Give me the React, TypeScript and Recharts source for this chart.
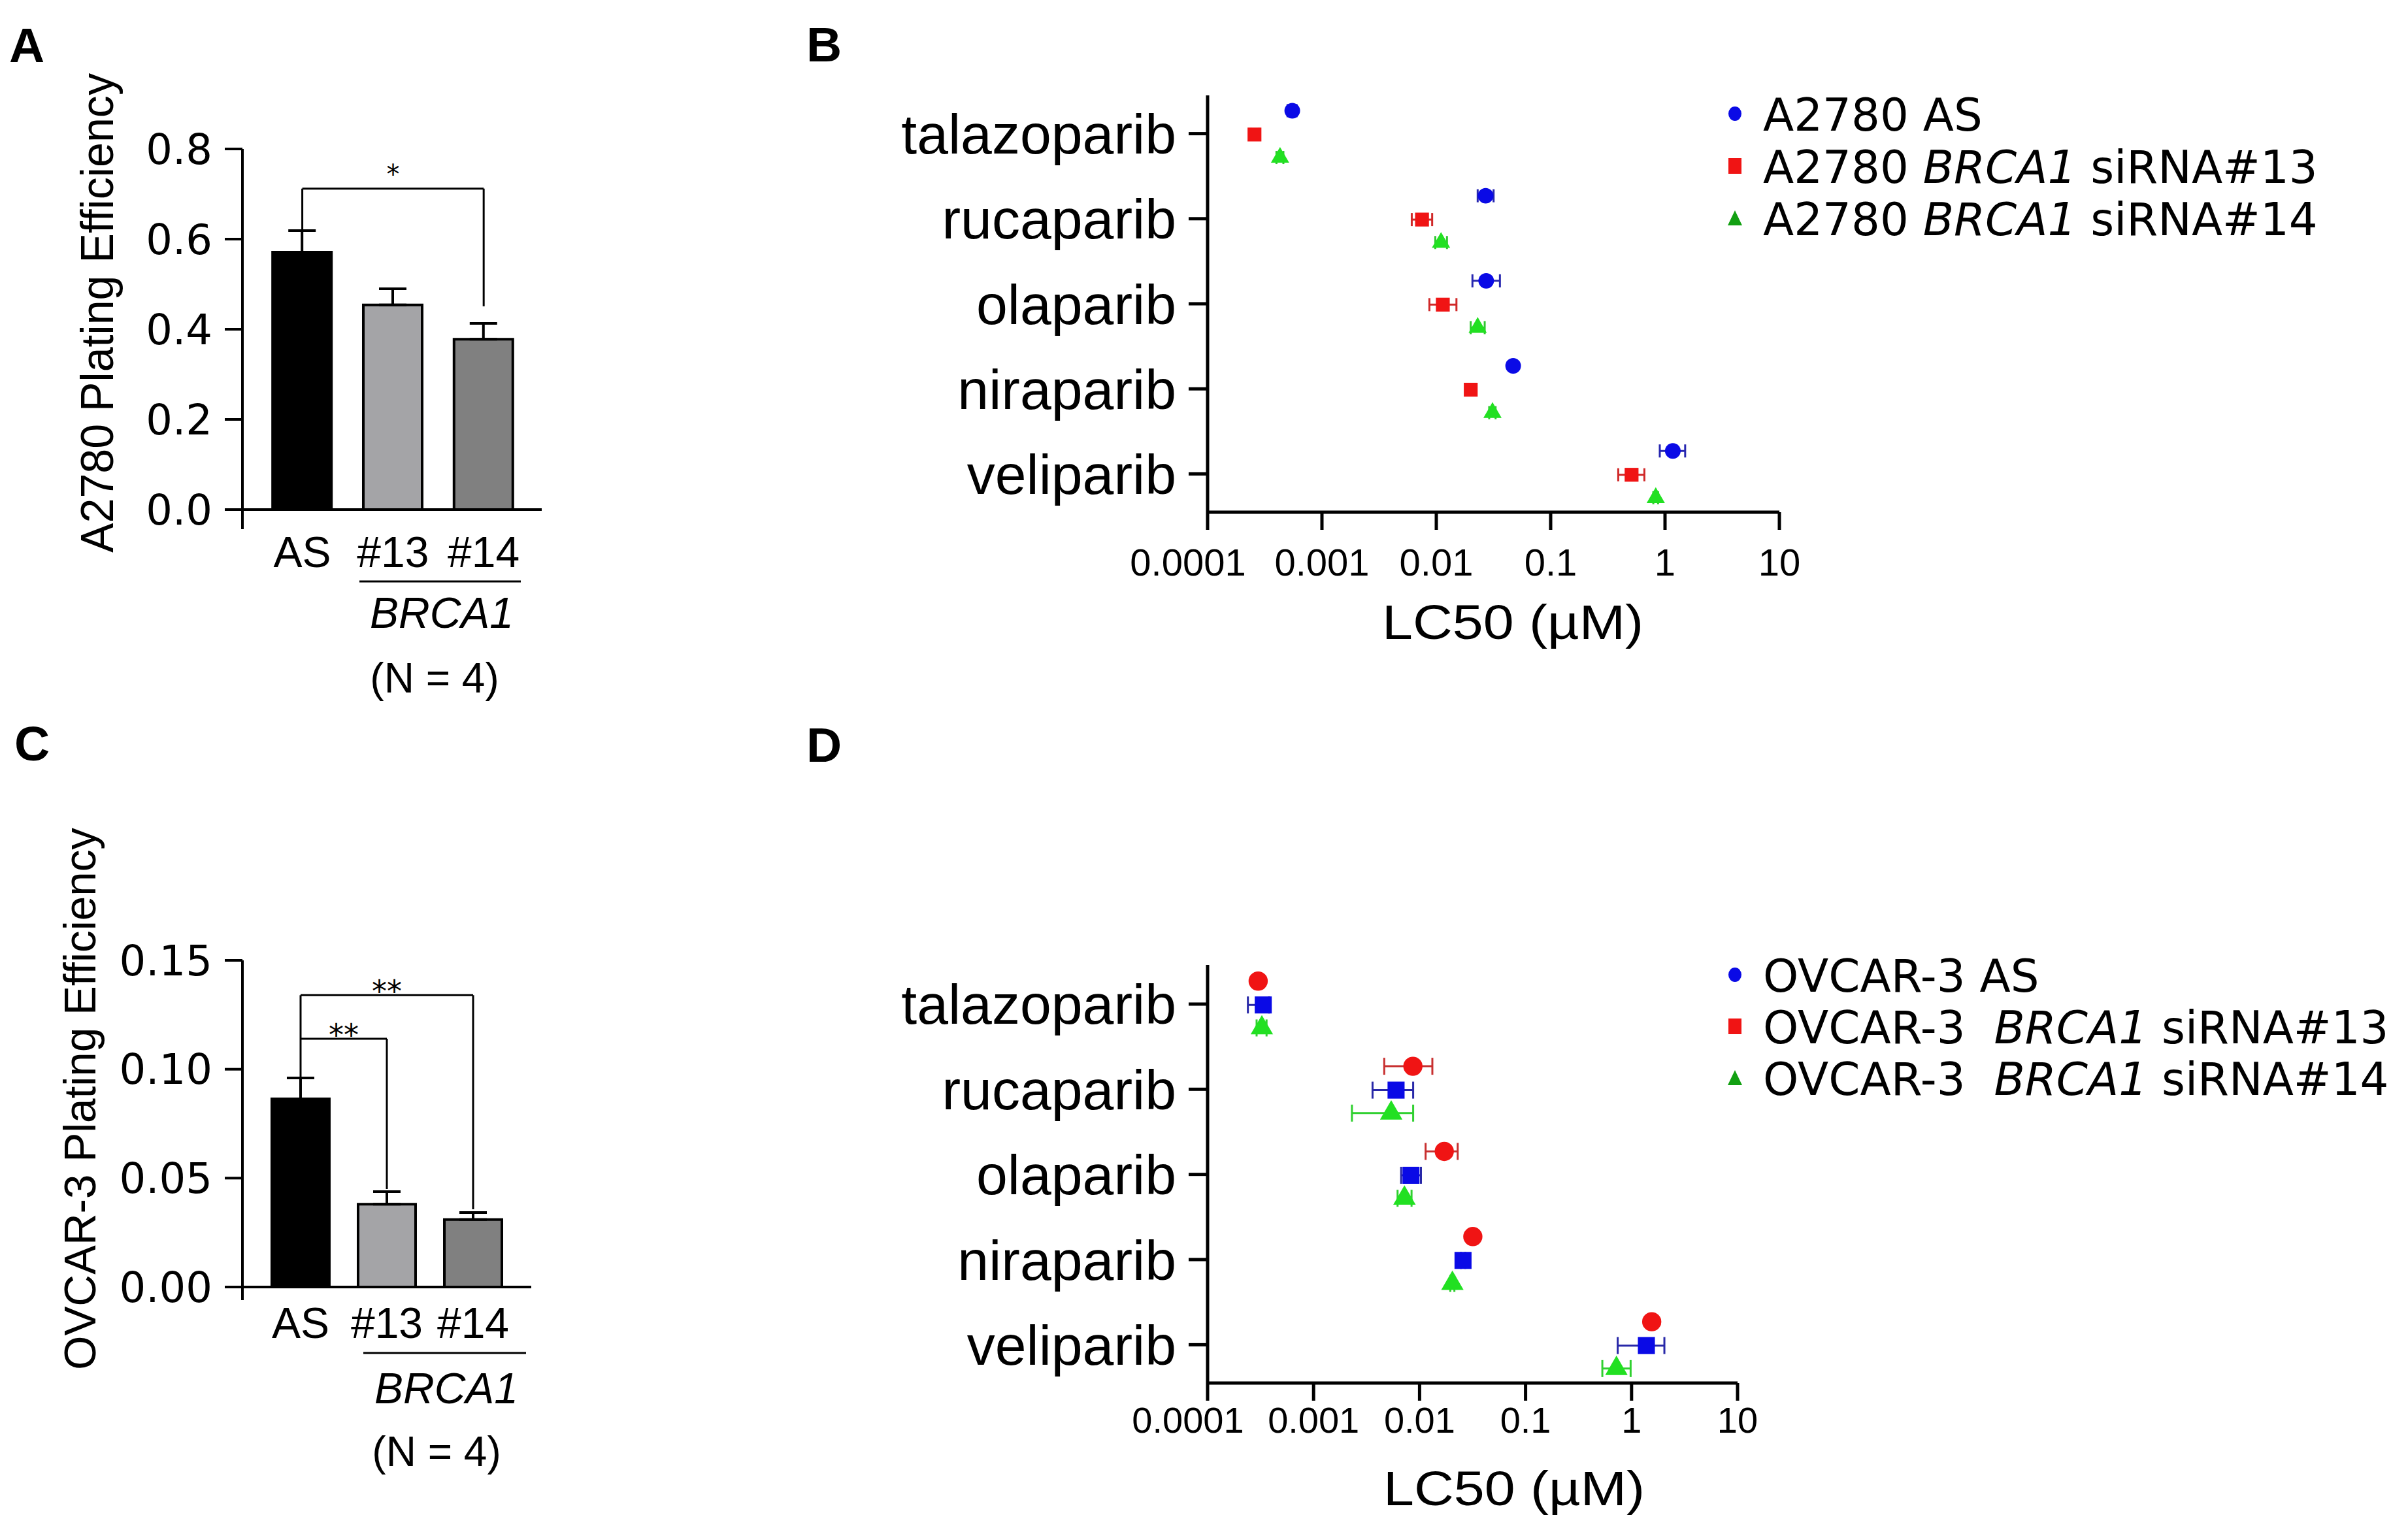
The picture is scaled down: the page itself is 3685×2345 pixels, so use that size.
import React from "react";
import {
  BarChart,
  Bar,
  Cell,
  ErrorBar,
  XAxis,
  YAxis,
  ReferenceLine,
  ReferenceDot,
  ScatterChart,
  Scatter,
  Symbols,
} from "recharts";

const W = 3685;
const H = 2345;
const SANS = "'DejaVu Sans', sans-serif";
const ARIAL = "'Liberation Sans', Arial, sans-serif";

// ---- A / C: plating efficiency ----
const groups = ["AS", "#13", "#14"];
const barColors = ["#000000", "#a4a4a7", "#808080"];

const a2780Mean = [0.571, 0.454, 0.378];
const a2780Sem = [0.048, 0.036, 0.035];
const a2780Ticks = [0, 0.2, 0.4, 0.6, 0.8];

const ovcarMean = [0.0864, 0.038, 0.031];
const ovcarSem = [0.0096, 0.0058, 0.0032];
const ovcarTicks = [0, 0.05, 0.1, 0.15];

// significance brackets (group positions 1..3, y in data units)
const a2780Sig = [{ from: 1, to: 3, y: 0.712, left: 0.619, right: 0.451, stars: "*" }];
const ovcarSig = [
  { from: 1, to: 2, y: 0.114, left: 0.096, right: 0.045, stars: "**" },
  { from: 1, to: 3, y: 0.134, left: 0.114, right: 0.0357, stars: "**" },
];

// ---- B / D: LC50 (µM) ----
const drugs = ["talazoparib", "rucaparib", "olaparib", "niraparib", "veliparib"];
const lcTicks = [0.0001, 0.001, 0.01, 0.1, 1, 10];

const a2780As = [0.00055, 0.027, 0.0273, 0.047, 1.17];
const a2780AsLow = [0.0005, 0.023, 0.0207, 0.045, 0.9];
const a2780AsHigh = [0.0006, 0.0317, 0.036, 0.049, 1.5];
const a2780Si13 = [0.000257, 0.0075, 0.0114, 0.02, 0.51];
const a2780Si13Low = [0.00024, 0.0061, 0.0087, 0.019, 0.39];
const a2780Si13High = [0.00028, 0.0092, 0.015, 0.021, 0.66];
const a2780Si14 = [0.00043, 0.011, 0.023, 0.031, 0.83];
const a2780Si14Low = [0.0004, 0.0098, 0.02, 0.029, 0.79];
const a2780Si14High = [0.00046, 0.0124, 0.0265, 0.033, 0.87];

// OVCAR-3 rows as plotted (top red circles, middle blue squares, bottom green triangles)
const ovcarTop = [0.0003, 0.00865, 0.0171, 0.0318, 1.55];
const ovcarTopLow = [0.00028, 0.00464, 0.0114, 0.031, 1.5];
const ovcarTopHigh = [0.00032, 0.0132, 0.0229, 0.033, 1.6];
const ovcarMid = [0.000335, 0.006, 0.0083, 0.0257, 1.38];
const ovcarMidLow = [0.00024, 0.0036, 0.0067, 0.0245, 0.74];
const ovcarMidHigh = [0.00038, 0.0087, 0.0103, 0.027, 2.04];
const ovcarBot = [0.000325, 0.0054, 0.0072, 0.0204, 0.72];
const ovcarBotLow = [0.00029, 0.0023, 0.0062, 0.0195, 0.53];
const ovcarBotHigh = [0.00036, 0.0087, 0.0084, 0.0213, 0.98];

const BLUE = "#0a0ae6";
const RED = "#f01414";
const GREEN = "#22e022";

const a2780Series = [
  { name: "A2780 AS", v: a2780As, lo: a2780AsLow, hi: a2780AsHigh, color: BLUE, err: "#2828b0", shape: "circle", off: -0.27, k: 1 },
  { name: "A2780 BRCA1 siRNA#13", v: a2780Si13, lo: a2780Si13Low, hi: a2780Si13High, color: RED, err: "#d02828", shape: "square", off: 0.01, k: 1 },
  { name: "A2780 BRCA1 siRNA#14", v: a2780Si14, lo: a2780Si14Low, hi: a2780Si14High, color: GREEN, err: "#30c830", shape: "triangle", off: 0.28, k: 0.75 },
];
const ovcarSeries = [
  { name: "top", v: ovcarTop, lo: ovcarTopLow, hi: ovcarTopHigh, color: RED, err: "#c83030", shape: "circle", off: -0.27, k: 1 },
  { name: "mid", v: ovcarMid, lo: ovcarMidLow, hi: ovcarMidHigh, color: BLUE, err: "#2828a8", shape: "square", off: 0.01, k: 1 },
  { name: "bot", v: ovcarBot, lo: ovcarBotLow, hi: ovcarBotHigh, color: GREEN, err: "#30d030", shape: "triangle", off: 0.28, k: 0.75 },
];

const a2780Legend = [
  { cell: "A2780 ", gene: "", tail: "AS", shape: "circle", color: BLUE },
  { cell: "A2780 ", gene: "BRCA1", tail: " siRNA#13", shape: "square", color: RED },
  { cell: "A2780 ", gene: "BRCA1", tail: " siRNA#14", shape: "triangle", color: "#12a012" },
];
const ovcarLegend = [
  { cell: "OVCAR-3 ", gene: "", tail: "AS", shape: "circle", color: BLUE },
  { cell: "OVCAR-3  ", gene: "BRCA1", tail: " siRNA#13", shape: "square", color: RED },
  { cell: "OVCAR-3  ", gene: "BRCA1", tail: " siRNA#14", shape: "triangle", color: "#12a012" },
];

const axisStyle = (w: number) => ({ stroke: "#000", strokeWidth: w });

function PlatingChart(p: any) {
  const data = groups.map((g, i) => ({ pos: i + 1, mean: p.means[i], err: [0, p.sems[i]] }));
  return (
    <div style={{ position: "absolute", left: p.left, top: p.top }}>
      <BarChart width={p.width} height={p.height} data={data} margin={p.margin}>
        <XAxis
          type="number"
          dataKey="pos"
          domain={p.xDomain}
          allowDataOverflow
          ticks={[1, 2, 3]}
          interval={0}
          tickFormatter={(v) => groups[v - 1]}
          axisLine={false}
          tickLine={false}
          tickSize={0}
          tickMargin={11}
          height={60}
          tick={{ fontSize: 66, fill: "#000", fontFamily: ARIAL }}
        />
        <YAxis
          type="number"
          domain={p.yDomain}
          allowDataOverflow
          ticks={p.yTicks}
          interval={0}
          tickFormatter={(v) => Number(v).toFixed(p.digits)}
          width={371}
          tickSize={27}
          tickMargin={19}
          axisLine={axisStyle(4)}
          tickLine={axisStyle(4)}
          tick={{ fontSize: 64, fill: "#000", fontFamily: SANS }}
        />
        <ReferenceLine y={0} stroke="#000" strokeWidth={4} />
        <Bar dataKey="mean" barSize={p.barSize} stroke="#000" strokeWidth={4} isAnimationActive={false}>
          {data.map((d, i) => (
            <Cell key={i} fill={barColors[i]} />
          ))}
          <ErrorBar dataKey="err" direction="y" width={21} stroke="#000" strokeWidth={4} />
        </Bar>
        {p.sig.map((s: any, k: number) => (
          <ReferenceLine key={"h" + k} segment={[{ x: s.from, y: s.y }, { x: s.to, y: s.y }]} stroke="#000" strokeWidth={3} ifOverflow="visible" />
        ))}
        {p.sig.map((s: any, k: number) => (
          <ReferenceLine key={"l" + k} segment={[{ x: s.from, y: s.left }, { x: s.from, y: s.y }]} stroke="#000" strokeWidth={3} ifOverflow="visible" />
        ))}
        {p.sig.map((s: any, k: number) => (
          <ReferenceLine key={"r" + k} segment={[{ x: s.to, y: s.right }, { x: s.to, y: s.y }]} stroke="#000" strokeWidth={3} ifOverflow="visible" />
        ))}
        {p.sig.map((s: any, k: number) => (
          <ReferenceDot
            key={"s" + k}
            x={(s.from + s.to) / 2}
            y={s.y}
            r={0}
            fill="none"
            stroke="none"
            ifOverflow="visible"
            label={{ value: s.stars, position: "top", offset: p.starGap, fontSize: p.starSize, fill: "#000", fontFamily: SANS }}
          />
        ))}
      </BarChart>
    </div>
  );
}

function LcTick(props: any) {
  const { x, y, payload, index, fontSize } = props;
  return (
    <text x={x + (index === 0 ? -30 : 0)} y={y} dy="0.71em" textAnchor="middle" fontSize={fontSize} fontFamily={ARIAL} fill="#000">
      {String(payload.value)}
    </text>
  );
}

function LcChart(p: any) {
  return (
    <div style={{ position: "absolute", left: p.left, top: p.top }}>
      <ScatterChart width={p.width} height={p.height} margin={p.margin}>
        <XAxis
          type="number"
          dataKey="x"
          scale="log"
          domain={[0.0001, 10]}
          allowDataOverflow
          ticks={lcTicks}
          interval={0}
          tickSize={27}
          tickMargin={p.tickMargin}
          height={80}
          axisLine={axisStyle(5)}
          tickLine={axisStyle(5)}
          tick={(t: any) => <LcTick {...t} fontSize={p.tickFont} />}
        />
        <YAxis
          type="number"
          dataKey="y"
          domain={p.yDomain}
          allowDataOverflow
          reversed
          ticks={[0, 1, 2, 3, 4]}
          interval={0}
          tickFormatter={(v) => drugs[v]}
          width={548}
          tickSize={29}
          tickMargin={19}
          axisLine={axisStyle(5)}
          tickLine={axisStyle(5)}
          tick={{ fontSize: 86, fill: "#000", fontFamily: ARIAL }}
        />
        {p.series.map((s: any) => (
          <Scatter
            key={s.name}
            name={s.name}
            data={s.v.map((v: number, i: number) => ({ x: v, y: i + s.off, err: [v - s.lo[i], s.hi[i] - v] }))}
            fill={s.color}
            shape={(q: any) => (
              <Symbols cx={q.cx} cy={q.cy} type={s.shape} size={p.size * s.k} sizeType="area" fill={s.color} />
            )}
            isAnimationActive={false}
          >
            <ErrorBar dataKey="err" direction="x" width={p.cap} stroke={s.err} strokeWidth={3} />
          </Scatter>
        ))}
      </ScatterChart>
    </div>
  );
}

function Marker({ shape, color, x, y }: any) {
  if (shape === "circle") return <ellipse cx={x} cy={y} rx={10} ry={11} fill={color} />;
  if (shape === "square") return <rect x={x - 10} y={y - 12} width={20} height={24} fill={color} />;
  return <path d={`M${x},${y - 12} L${x + 11},${y + 11} L${x - 11},${y + 11} Z`} fill={color} />;
}

function Legend({ items, rows }: any) {
  return (
    <g>
      {items.map((it: any, i: number) => (
        <g key={i}>
          <Marker shape={it.shape} color={it.color} x={2655} y={rows[i]} />
          <text x={2698} y={rows[i] + 26} fontSize={69} fontFamily={SANS} style={{ whiteSpace: "pre" }}>
            {it.cell}
            {it.gene ? <tspan fontStyle="italic">{it.gene}</tspan> : null}
            {it.tail}
          </text>
        </g>
      ))}
    </g>
  );
}

function Overlay() {
  return (
    <svg width={W} height={H} style={{ position: "absolute", left: 0, top: 0, pointerEvents: "none" }}>
      <g fontFamily={ARIAL} fontWeight="bold" fontSize={75} fill="#000">
        <text x={14} y={95}>A</text>
        <text x={1234} y={94}>B</text>
        <text x={22} y={1164}>C</text>
        <text x={1234} y={1166}>D</text>
      </g>
      <text transform="translate(173,479) rotate(-90)" textAnchor="middle" fontFamily={ARIAL} fontSize={70} textLength={734} lengthAdjust="spacingAndGlyphs">
        A2780 Plating Efficiency
      </text>
      <text transform="translate(146,1682) rotate(-90)" textAnchor="middle" fontFamily={ARIAL} fontSize={68} textLength={830} lengthAdjust="spacingAndGlyphs">
        OVCAR-3 Plating Efficiency
      </text>

      <line x1={550} x2={797} y1={890} y2={890} stroke="#000" strokeWidth={3} />
      <text x={676} y={961} textAnchor="middle" fontFamily={ARIAL} fontStyle="italic" fontSize={66}>BRCA1</text>
      <text x={665} y={1060} textAnchor="middle" fontFamily={ARIAL} fontSize={64} style={{ whiteSpace: "pre" }}>(N = 4)</text>

      <line x1={556} x2={805} y1={2071} y2={2071} stroke="#000" strokeWidth={3} />
      <text x={683} y={2148} textAnchor="middle" fontFamily={ARIAL} fontStyle="italic" fontSize={66}>BRCA1</text>
      <text x={668} y={2244} textAnchor="middle" fontFamily={ARIAL} fontSize={64} style={{ whiteSpace: "pre" }}>(N = 4)</text>

      <text x={2315} y={978} textAnchor="middle" fontFamily={ARIAL} fontSize={74} textLength={400} lengthAdjust="spacingAndGlyphs">LC50 (µM)</text>
      <text x={2317} y={2304} textAnchor="middle" fontFamily={ARIAL} fontSize={74} textLength={400} lengthAdjust="spacingAndGlyphs">LC50 (µM)</text>

      <Legend items={a2780Legend} rows={[174, 254, 334]} />
      <Legend items={ovcarLegend} rows={[1492, 1571, 1650]} />
    </svg>
  );
}

export default function App() {
  return (
    <div style={{ position: "absolute", left: 0, top: 0, width: W, height: H, background: "#fff", overflow: "hidden" }}>
      <PlatingChart
        left={0}
        top={0}
        width={900}
        height={1100}
        margin={{ top: 228, right: 71, bottom: 230, left: 0 }}
        xDomain={[0.34, 3.64]}
        yDomain={[-0.0435, 0.8]}
        yTicks={a2780Ticks}
        digits={1}
        means={a2780Mean}
        sems={a2780Sem}
        sig={a2780Sig}
        barSize={90}
        starGap={8}
        starSize={40}
      />
      <PlatingChart
        left={0}
        top={1100}
        width={900}
        height={1245}
        margin={{ top: 370, right: 87, bottom: 295, left: 0 }}
        xDomain={[0.326, 3.674]}
        yDomain={[-0.006, 0.15]}
        yTicks={ovcarTicks}
        digits={2}
        means={ovcarMean}
        sems={ovcarSem}
        sig={ovcarSig}
        barSize={88}
        starGap={-10}
        starSize={46}
      />
      <LcChart
        left={1300}
        top={0}
        width={2385}
        height={1100}
        margin={{ top: 146, right: 962, bottom: 236, left: 0 }}
        yDomain={[-0.45, 4.45]}
        series={a2780Series}
        size={450}
        cap={10}
        tickMargin={29}
        tickFont={58}
      />
      <LcChart
        left={1300}
        top={1100}
        width={2385}
        height={1245}
        margin={{ top: 377, right: 1026, bottom: 148, left: 0 }}
        yDomain={[-0.46, 4.45]}
        series={ovcarSeries}
        size={680}
        cap={13}
        tickMargin={9}
        tickFont={56}
      />
      <Overlay />
    </div>
  );
}
